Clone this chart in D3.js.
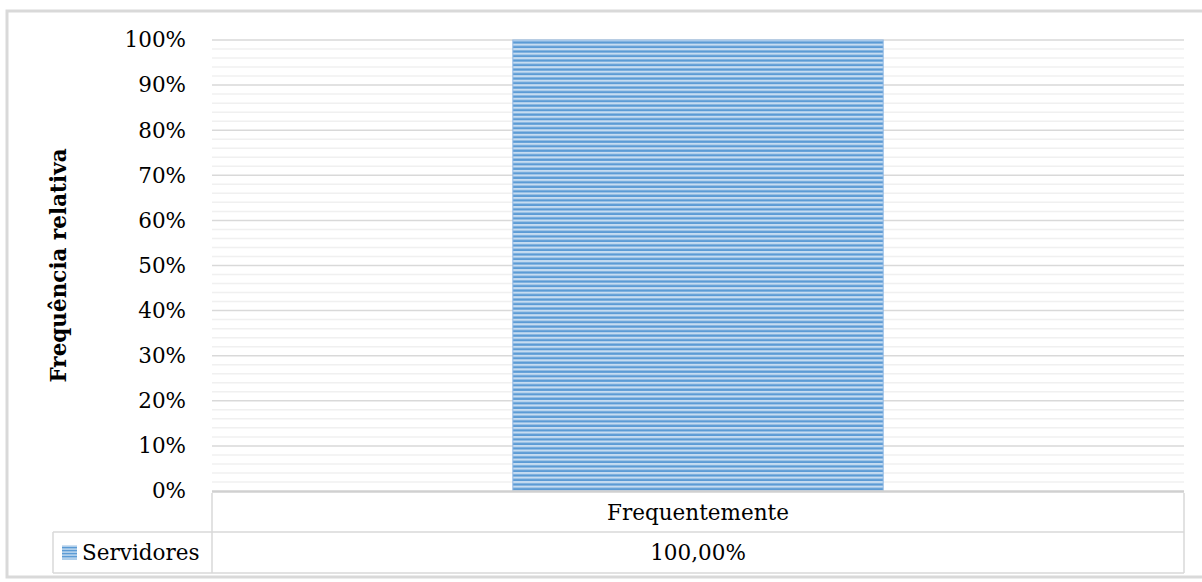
<!DOCTYPE html>
<html>
<head>
<meta charset="utf-8">
<script src="https://cdn.jsdelivr.net/npm/d3@7"></script>
<style>
  html, body { margin: 0; padding: 0; background: #fff; }
  svg { display: block; }
  text { font-family: "DejaVu Serif", "Liberation Serif", serif; fill: #000; }
</style>
</head>
<body>
<svg id="chart" width="1202" height="582"></svg>
<script>
// ---- data ----
const categories = ["Frequentemente"];
const seriesName = "Servidores";
const seriesValues = [1.0];
const tableLabels = ["100,00%"];
const yTicks = [0, 0.1, 0.2, 0.3, 0.4, 0.5, 0.6, 0.7, 0.8, 0.9, 1.0];
const yTickLabels = ["0%", "10%", "20%", "30%", "40%", "50%", "60%", "70%", "80%", "90%", "100%"];
const yMinorTicks = d3.range(0, 101, 2).filter(d => d % 10 !== 0).map(d => d / 100);
const yTitle = "Frequência relativa";

// ---- layout ----
const W = 1202, H = 582;
const plot = { left: 212, right: 1184, top: 40, bottom: 491 };
const table = { row1Top: 493, row1Bottom: 532, row2Bottom: 573, legendLeft: 53 };
const fontSize = 21.5;

const svg = d3.select("#chart");

const defs = svg.append("defs");
const pat = defs.append("pattern")
  .attr("id", "stripes")
  .attr("patternUnits", "userSpaceOnUse")
  .attr("width", 8).attr("height", 4.51)
  .attr("y", plot.top);
pat.append("rect").attr("width", 8).attr("height", 4.51).attr("fill", "#c6dcf1");
pat.append("rect").attr("y", 1.3).attr("width", 8).attr("height", 2.3).attr("fill", "#5b9bd5");

const pat2 = defs.append("pattern")
  .attr("id", "stripesKey")
  .attr("patternUnits", "userSpaceOnUse")
  .attr("width", 8).attr("height", 3)
  .attr("y", 0);
pat2.append("rect").attr("width", 8).attr("height", 3).attr("fill", "#c6dcf1");
pat2.append("rect").attr("y", 0.8).attr("width", 8).attr("height", 1.6).attr("fill", "#5b9bd5");

// outer chart border
svg.append("rect")
  .attr("x", 7).attr("y", 11).attr("width", 1200).attr("height", 566)
  .attr("fill", "none").attr("stroke", "#d9d9d9").attr("stroke-width", 3);

const x = d3.scaleBand().domain(categories).range([plot.left, plot.right]).padding(0);
const y = d3.scaleLinear().domain([0, 1]).range([plot.bottom, plot.top]);

// minor gridlines
svg.append("g").selectAll("line").data(yMinorTicks).join("line")
  .attr("x1", plot.left).attr("x2", plot.right)
  .attr("y1", d => y(d)).attr("y2", d => y(d))
  .attr("stroke", "#f0f0f0").attr("stroke-width", 1.5);

// major gridlines
svg.append("g").selectAll("line").data(yTicks.filter(d => d > 0)).join("line")
  .attr("x1", plot.left).attr("x2", plot.right)
  .attr("y1", d => y(d)).attr("y2", d => y(d))
  .attr("stroke", "#d9d9d9").attr("stroke-width", 1.5);

// y axis
const yAxis = d3.axisLeft(y).tickValues(yTicks)
  .tickFormat((d, i) => yTickLabels[i]).tickSize(0).tickPadding(26);
const gy = svg.append("g").attr("transform", `translate(${plot.left},0)`).call(yAxis);
gy.select(".domain").remove();
gy.selectAll("text").style("font-size", fontSize + "px")
  .style("font-family", '"DejaVu Serif", serif').attr("fill", "#000");

// bars
const barFrac = 0.381;
svg.append("g").selectAll("rect").data(categories).join("rect")
  .attr("x", d => x(d) + x.bandwidth() * (1 - barFrac) / 2)
  .attr("width", x.bandwidth() * barFrac)
  .attr("y", (d, i) => y(seriesValues[i]))
  .attr("height", (d, i) => y(0) - y(seriesValues[i]))
  .attr("fill", "url(#stripes)")
  .attr("stroke", "#8db7e3").attr("stroke-width", 1);

// x axis line
svg.append("line")
  .attr("x1", plot.left).attr("x2", plot.right)
  .attr("y1", y(0) + 0.5).attr("y2", y(0) + 0.5)
  .attr("stroke", "#d0d0d0").attr("stroke-width", 2.5);

// data table
const tg = svg.append("g").attr("stroke", "#d9d9d9").attr("stroke-width", 1.5).attr("fill", "none");
tg.append("line").attr("x1", plot.left).attr("x2", plot.left).attr("y1", table.row1Top).attr("y2", table.row2Bottom);
tg.append("line").attr("x1", plot.right).attr("x2", plot.right).attr("y1", table.row1Top).attr("y2", table.row2Bottom);
tg.append("line").attr("x1", table.legendLeft).attr("x2", plot.right).attr("y1", table.row1Bottom).attr("y2", table.row1Bottom);
tg.append("line").attr("x1", table.legendLeft).attr("x2", plot.right).attr("y1", table.row2Bottom).attr("y2", table.row2Bottom);
tg.append("line").attr("x1", table.legendLeft).attr("x2", table.legendLeft).attr("y1", table.row1Bottom).attr("y2", table.row2Bottom);
categories.slice(1).forEach(c => {
  tg.append("line").attr("x1", x(c)).attr("x2", x(c)).attr("y1", table.row1Top).attr("y2", table.row2Bottom);
});

svg.append("g").selectAll("text").data(categories).join("text")
  .attr("x", d => x(d) + x.bandwidth() / 2)
  .attr("y", (table.row1Top + table.row1Bottom) / 2)
  .attr("dy", "0.35em").attr("text-anchor", "middle")
  .style("font-size", fontSize + "px")
  .text(d => d);

svg.append("g").selectAll("text").data(categories).join("text")
  .attr("x", d => x(d) + x.bandwidth() / 2)
  .attr("y", (table.row1Bottom + table.row2Bottom) / 2)
  .attr("dy", "0.35em").attr("text-anchor", "middle")
  .style("font-size", fontSize + "px")
  .text((d, i) => tableLabels[i]);

// legend key in table
svg.append("rect")
  .attr("x", 62).attr("y", (table.row1Bottom + table.row2Bottom) / 2 - 7)
  .attr("width", 15).attr("height", 14)
  .attr("fill", "url(#stripesKey)");
svg.append("text")
  .attr("x", 82).attr("y", (table.row1Bottom + table.row2Bottom) / 2)
  .attr("dy", "0.35em")
  .style("font-size", fontSize + "px")
  .text(seriesName);

// y title
svg.append("text")
  .attr("transform", `translate(66,${(plot.top + plot.bottom) / 2}) rotate(-90)`)
  .attr("text-anchor", "middle")
  .style("font-size", "21.5px").style("font-weight", "bold")
  .text(yTitle);
</script>
</body>
</html>
